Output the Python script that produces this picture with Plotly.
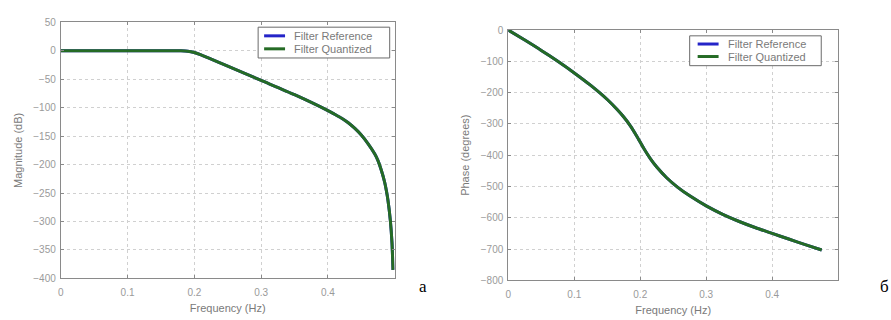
import plotly.graph_objects as go

# Magnitude response (dB) vs normalized frequency
mag_freq = [0.0, 0.05, 0.1, 0.15, 0.18, 0.19, 0.2, 0.21, 0.22, 0.25, 0.3, 0.35,
            0.4, 0.41, 0.42, 0.43, 0.44, 0.45, 0.46, 0.47, 0.475, 0.48, 0.485,
            0.4876, 0.49, 0.4935, 0.496, 0.4975]
mag_db = [0.0, 0.0, 0.0, 0.0, 0.0, -0.6, -3, -7, -12, -27, -52, -77,
          -105, -111.5, -118, -126, -136, -148, -163, -181, -193, -210, -231,
          -246, -263, -298, -338, -385]

# Phase response (degrees) vs normalized frequency
ph_freq = [0.0, 0.025, 0.05, 0.075, 0.1, 0.125, 0.15, 0.165, 0.175, 0.185,
           0.195, 0.205, 0.215, 0.225, 0.24, 0.2564, 0.275, 0.3, 0.325, 0.35,
           0.375, 0.4, 0.425, 0.45, 0.475]
ph_deg = [0, -32, -65, -100, -137, -177, -222, -254, -278, -306,
          -340, -377, -410, -438, -472, -502, -530, -562, -589, -612,
          -632, -650, -668, -686, -703]

freq_ticks = [0, 0.1, 0.2, 0.3, 0.4]
mag_ticks = [50, 0, -50, -100, -150, -200, -250, -300, -350, -400]
ph_ticks = [0, -100, -200, -300, -400, -500, -600, -700, -800]

series_names = ["Filter Reference", "Filter Quantized"]
series_colors = ["#2424c8", "#256b25"]

W, H = 891, 320
SANS = "Liberation Sans, Arial, sans-serif"


def px_x(a, b):
    return [a / W, b / W]


def px_y(top, bottom):
    return [1 - bottom / H, 1 - top / H]


fig = go.Figure()

# Left panel: magnitude
for name, color in zip(series_names, series_colors):
    fig.add_trace(go.Scatter(x=mag_freq, y=mag_db, mode="lines", name=name,
                             line=dict(color=color, width=3, shape="spline", smoothing=0.6),
                             xaxis="x", yaxis="y"))
# Right panel: phase
for name, color in zip(series_names, series_colors):
    fig.add_trace(go.Scatter(x=ph_freq, y=ph_deg, mode="lines", name=name,
                             line=dict(color=color, width=3, shape="spline", smoothing=0.6),
                             xaxis="x2", yaxis="y2"))

tick_font = dict(family=SANS, size=10, color="#9a9a9a")
title_font = dict(family=SANS, size=11, color="#7a7a7a")

axis_common = dict(showline=True, linecolor="#8a8a8a", linewidth=1, mirror="ticks",
                   ticks="inside", ticklen=3, tickcolor="#8a8a8a",
                   showgrid=True, gridcolor="#d0d0d0", griddash="dot", gridwidth=1,
                   zeroline=False, tickfont=tick_font, fixedrange=True)

fig.update_layout(
    width=W, height=H,
    margin=dict(l=0, r=0, t=0, b=0),
    paper_bgcolor="white", plot_bgcolor="white",
    showlegend=False,
    xaxis=dict(domain=px_x(58, 393), range=[0, 0.5], tickvals=freq_ticks,
               ticktext=[str(t) for t in freq_ticks], anchor="y",
               ticklabelstandoff=5,
               title=dict(text="Frequency (Hz)", font=title_font, standoff=6),
               **axis_common),
    yaxis=dict(domain=px_y(17, 283), range=[-400, 50], tickvals=mag_ticks,
               anchor="x", ticklabelstandoff=2,
               title=dict(text="Magnitude (dB)", font=title_font, standoff=8),
               **axis_common),
    xaxis2=dict(domain=px_x(507, 838), range=[0, 0.5], tickvals=freq_ticks,
                ticktext=[str(t) for t in freq_ticks], anchor="y2",
                ticklabelstandoff=5,
                title=dict(text="Frequency (Hz)", font=title_font, standoff=6),
                **axis_common),
    yaxis2=dict(domain=px_y(25, 285), range=[-800, 0], tickvals=ph_ticks,
                anchor="x2", ticklabelstandoff=2,
                title=dict(text="Phase (degrees)", font=title_font, standoff=8),
                **axis_common),
)


# Legend boxes drawn in paper space: (box left, top, right, bottom), row centres
def draw_legend(left, top, right, bottom, rows, line_x0, line_x1, text_x):
    fig.add_shape(type="rect", xref="paper", yref="paper",
                  x0=left / W, x1=right / W, y0=1 - bottom / H, y1=1 - top / H,
                  line=dict(color="#6a6a6a", width=1), fillcolor="white", layer="above")
    for name, color, ry in zip(series_names, series_colors, rows):
        fig.add_shape(type="line", xref="paper", yref="paper",
                      x0=line_x0 / W, x1=line_x1 / W, y0=1 - ry / H, y1=1 - ry / H,
                      line=dict(color=color, width=3), layer="above")
        fig.add_annotation(text=name, x=text_x / W, y=1 - ry / H, xref="paper", yref="paper",
                           showarrow=False, xanchor="left", yanchor="middle",
                           font=dict(family=SANS, size=11, color="#7a7a7a"))


draw_legend(256, 22, 388, 54, [31, 44.5], 262, 283, 290)
draw_legend(689, 31, 821, 62, [39.5, 52.5], 697, 718, 725)

# Panel captions
for label, xpx in [("а", 421), ("б", 884)]:
    fig.add_annotation(text=label, x=xpx / W, y=1 - 291 / H, xref="paper", yref="paper",
                       showarrow=False, xanchor="center", yanchor="middle",
                       font=dict(family="Liberation Serif, Times New Roman, serif",
                                 size=17, color="black"))

fig.write_html("out.html")
